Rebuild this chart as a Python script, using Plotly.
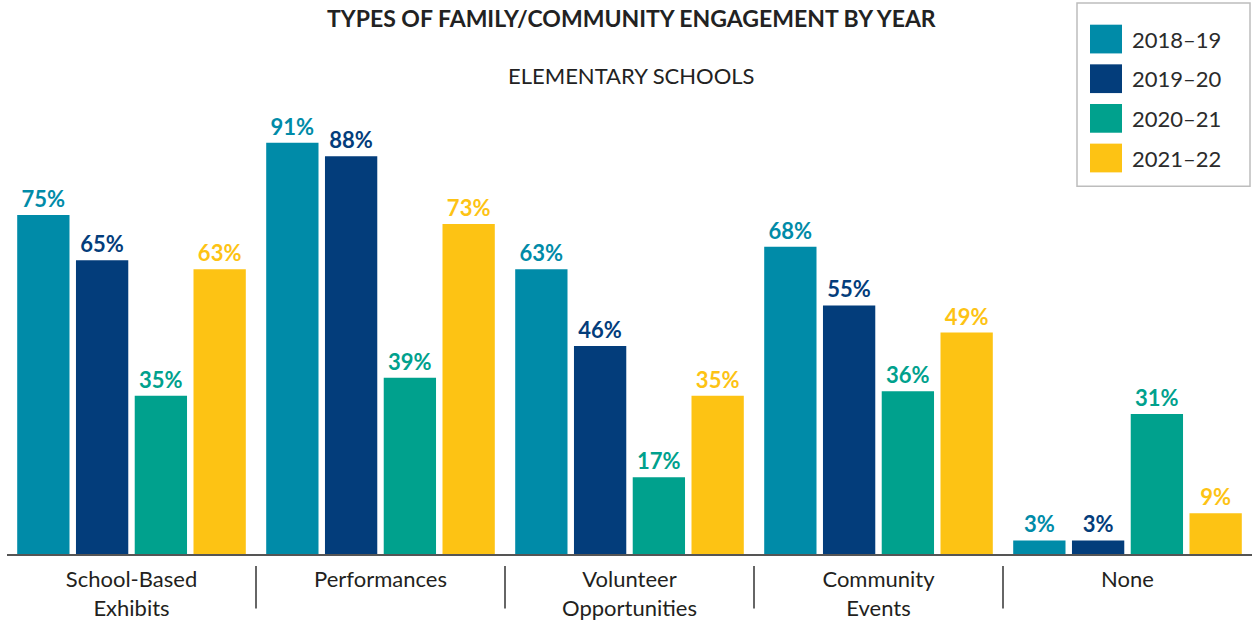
import plotly.graph_objects as go

categories = ["School-Based<br>Exhibits", "Performances", "Volunteer<br>Opportunities", "Community<br>Events", "None"]
years = ["2018\u201319", "2019\u201320", "2020\u201321", "2021\u201322"]
v_2018_19 = [75, 91, 63, 68, 3]
v_2019_20 = [65, 88, 46, 55, 3]
v_2020_21 = [35, 39, 17, 36, 31]
v_2021_22 = [63, 73, 35, 49, 9]
series = [v_2018_19, v_2019_20, v_2020_21, v_2021_22]
colors = ["#008BA8", "#033D7B", "#00A18D", "#FDC314"]

W, H = 1252, 621
L, R, T, B = 7, 0, 102, 63
PW, PH = W - L - R, H - T - B
FONT = "Lato, 'Open Sans', sans-serif"

def px(x):
    return (x - L) / PW

def py(y):
    return (H - B - y) / PH

fig = go.Figure()
for name, vals, col in zip(years, series, colors):
    fig.add_trace(go.Bar(
        x=categories, y=vals, name=name, marker=dict(color=col, line=dict(width=0)),
        text=[f"{v}%" for v in vals], textposition="outside",
        textfont=dict(family=FONT, size=22, color=col, weight="bold"),
        cliponaxis=False, showlegend=False,
    ))

shapes = []
annotations = []
# category separators
for i in range(1, len(categories)):
    shapes.append(dict(type="line", xref="x", yref="paper", x0=i - 0.5, x1=i - 0.5,
                       y0=py(570), y1=py(613), line=dict(color="#333333", width=1.5)))
# legend box
shapes.append(dict(type="rect", xref="paper", yref="paper", x0=px(1077), x1=px(1250),
                   y0=py(187), y1=py(2), line=dict(color="#BDBDBD", width=1.5),
                   fillcolor="white", layer="above"))
for i, (name, col) in enumerate(zip(years, colors)):
    top = 24 + 40 * i
    shapes.append(dict(type="rect", xref="paper", yref="paper", x0=px(1090), x1=px(1122),
                       y0=py(top + 29), y1=py(top), line=dict(width=0), fillcolor=col, layer="above"))
    annotations.append(dict(text=name, xref="paper", yref="paper", x=px(1130), y=py(top + 14.5),
                            xanchor="left", yanchor="middle", showarrow=False,
                            font=dict(family=FONT, size=22, color="#2B2B2B")))

annotations.append(dict(text="<b>TYPES OF FAMILY/COMMUNITY ENGAGEMENT BY YEAR</b>", xref="paper", yref="paper",
                        x=px(631), y=py(17), xanchor="center", yanchor="middle", showarrow=False,
                        font=dict(family=FONT, size=23, color="#222222")))
annotations.append(dict(text="ELEMENTARY SCHOOLS", xref="paper", yref="paper",
                        x=px(631), y=py(75), xanchor="center", yanchor="middle", showarrow=False,
                        font=dict(family=FONT, size=22, color="#222222")))

fig.update_layout(
    width=W, height=H, margin=dict(l=L, r=R, t=T, b=B),
    paper_bgcolor="white", plot_bgcolor="white",
    barmode="group", bargap=0.056, bargroupgap=0.11,
    shapes=shapes, annotations=annotations,
    font=dict(family=FONT),
    xaxis=dict(showline=True, linecolor="#555555", linewidth=2, ticks="",
               tickfont=dict(family=FONT, size=22, color="#231F20"),
               ticklabelstandoff=5, showgrid=False, fixedrange=True),
    yaxis=dict(range=[0, 100], visible=False, showgrid=False, zeroline=False, fixedrange=True),
)
fig.write_html("out.html", config={"displayModeBar": False},
               post_script="document.body.style.margin='0';document.body.style.overflow='hidden';")
